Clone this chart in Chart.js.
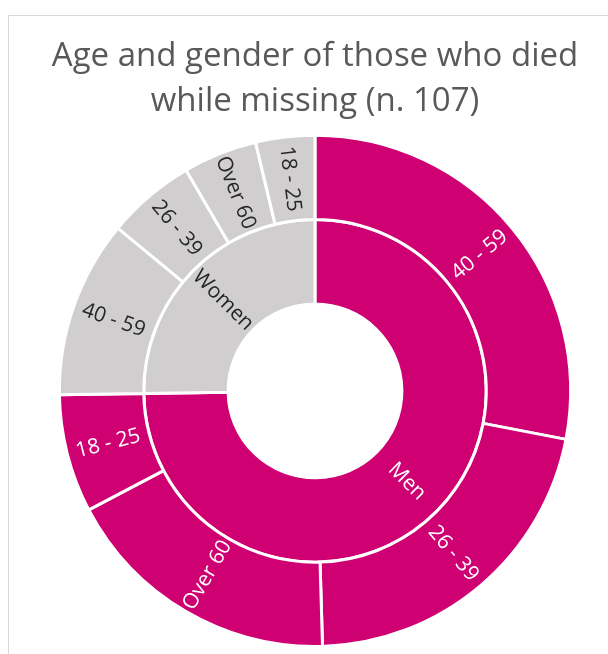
<!DOCTYPE html>
<html>
<head>
<meta charset="utf-8">
<script src="https://cdn.jsdelivr.net/npm/chart.js@4"></script>
<style>
  html, body { margin: 0; padding: 0; background: #fff; }
  #wrap { position: relative; width: 608px; height: 654px; overflow: hidden; }
  #frame { position: absolute; left: 8px; top: 15px; width: 700px; height: 700px; border: 1px solid #d9d9d9; }
  #sun { position: absolute; left: 0; top: 0; }
</style>
</head>
<body>
<div id="wrap">
  <div id="frame"></div>
  <canvas id="sun" width="608" height="654"></canvas>
</div>
<script>
// data ---------------------
const groups = ["Men", "Women"];
const groupTotals = [80, 27];
const menAges = ["40 - 59", "26 - 39", "Over 60", "18 - 25"];
const menCounts = [30, 23, 19, 8];
const womenAges = ["40 - 59", "26 - 39", "Over 60", "18 - 25"];
const womenCounts = [12, 6, 5, 4];

const MAGENTA = "#cf0072";
const GREY = "#d0cece";
const FONT = "'Open Sans', sans-serif";

// labels drawn along the radius, flipped on the left half so they stay upright
const arcLabels = {
  id: "arcLabels",
  afterDatasetsDraw(chart) {
    const ctx = chart.ctx;
    chart.data.datasets.forEach((ds, i) => {
      chart.getDatasetMeta(i).data.forEach((arc, j) => {
        const p = arc.getProps(["x", "y", "startAngle", "endAngle", "innerRadius", "outerRadius"]);
        const a = (p.startAngle + p.endAngle) / 2;
        const r = (p.innerRadius + p.outerRadius) / 2;
        const deg = ((a * 180 / Math.PI) + 90 + 720) % 360;
        const rot = deg > 180 ? a + Math.PI : a;
        ctx.save();
        ctx.translate(p.x + r * Math.cos(a), p.y + r * Math.sin(a));
        ctx.rotate(rot);
        ctx.font = "21px " + FONT;
        ctx.fillStyle = ds.textColors[j];
        ctx.textAlign = "center";
        ctx.textBaseline = "middle";
        ctx.fillText(ds.names[j], 0, 0);
        ctx.restore();
      });
    });
  }
};

const outerColors = menCounts.map(() => MAGENTA).concat(womenCounts.map(() => GREY));
const outerText = menCounts.map(() => "#fff").concat(womenCounts.map(() => "#262626"));

new Chart(document.getElementById("sun"), {
  type: "doughnut",
  data: {
    labels: menAges.concat(womenAges),
    datasets: [
      {
        data: menCounts.concat(womenCounts),
        names: menAges.concat(womenAges),
        backgroundColor: outerColors,
        textColors: outerText,
        borderColor: "#fff",
        borderWidth: 3
      },
      {
        data: groupTotals,
        names: groups,
        backgroundColor: [MAGENTA, GREY],
        textColors: ["#fff", "#262626"],
        borderColor: "#fff",
        borderWidth: 3
      }
    ]
  },
  options: {
    responsive: false,
    animation: false,
    cutout: "34%",
    layout: { padding: { left: 22, right: 0, top: 0, bottom: 6 } },
    plugins: {
      legend: { display: false },
      tooltip: { enabled: false },
      title: {
        display: true,
        text: ["Age and gender of those who died", "while missing (n. 107)"],
        color: "#595959",
        font: { family: FONT, size: 33, weight: "normal", lineHeight: 1.36 },
        padding: { top: 34, bottom: 10 }
      }
    }
  },
  plugins: [arcLabels]
});
</script>
</body>
</html>
